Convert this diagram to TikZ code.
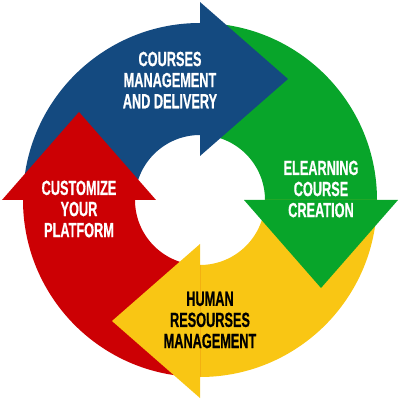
\documentclass[tikz,border=0pt]{standalone}
\usepackage{fontspec}
\newfontfamily\cyclefont{Liberation Sans}[FakeStretch=0.62, FakeBold=0.6]
\usetikzlibrary{positioning}
\definecolor{cblue}{RGB}{20,74,128}
\definecolor{cgreen}{RGB}{8,165,42}
\definecolor{cyellow}{RGB}{249,198,20}
\definecolor{cred}{RGB}{204,0,4}

\begin{document}
\begin{tikzpicture}[x=0.025cm, y=0.025cm,
    band/.style={draw=none},
    head/.style={draw=none},
    caption/.style={align=center, inner sep=0pt, font=\cyclefont\bfseries\fontsize{14.6}{15}\selectfont},
]
\useasboundingbox (-200,-200) rectangle (200,200);
\coordinate (centre) at (0,0);

% bands (ring pieces)
\fill[band, cblue] (90:177) arc (90:180:177) -- (180:65) arc (180:90:65) -- cycle;
\fill[band, cgreen] (0:177) arc (0:90:177) -- (90:65) arc (90:0:65) -- cycle;
\fill[band, cyellow] (-90:177) arc (-90:0:177) -- (0:65) arc (0:-90:65) -- cycle;
\fill[band, cred] (-180:177) arc (-180:-90:177) -- (-90:65) arc (-90:-180:65) -- cycle;

% arrow heads
\fill[head, cblue] (0,44) -- (0,198) -- (88,121) -- cycle;
\fill[head, cgreen] (44,0) -- (198,0) -- (121,-88) -- cycle;
\fill[head, cyellow] (0,-44) -- (0,-198) -- (-88,-121) -- cycle;
\fill[head, cred] (-44,0) -- (-198,0) -- (-121,88) -- cycle;

\node[caption, white] (courses) at (-30,120) {COURSES\\MANAGEMENT\\AND DELIVERY};
\node[caption, white] (elearning) at (121,11) {ELEARNING\\COURSE\\CREATION};
\node[caption, black] (human) at (10,-120) {HUMAN\\RESOURSES\\MANAGEMENT};
\node[caption, white] (customize) at (-121,-9) {CUSTOMIZE\\YOUR\\PLATFORM};

\end{tikzpicture}
\end{document}
